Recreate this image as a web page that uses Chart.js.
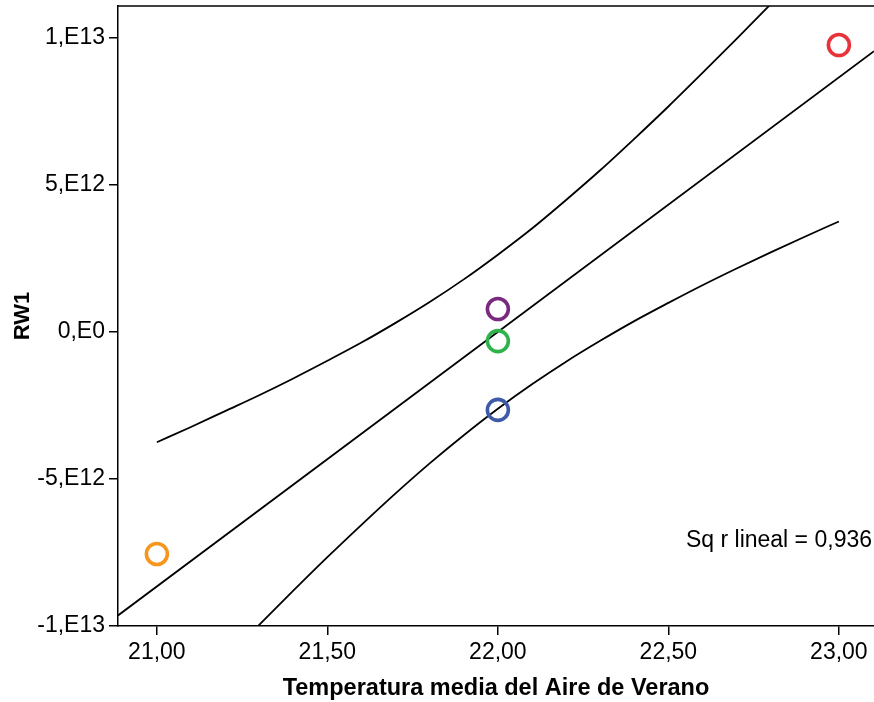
<!DOCTYPE html>
<html>
<head>
<meta charset="utf-8">
<script src="https://cdn.jsdelivr.net/npm/chart.js@4/dist/chart.umd.min.js"></script>
<style>
  html, body { margin: 0; padding: 0; background: #fff; overflow: hidden; }
  #wrap { width: 874px; height: 702px; position: relative; }
  canvas { display: block; }
</style>
</head>
<body>
<div id="wrap"><canvas id="c" width="874" height="702"></canvas></div>
<script>
// ---- Data ----
const pointX = [21, 22, 22, 22, 23];
const pointY = [-7.55e12, 0.78e12, -0.31e12, -2.65e12, 9.76e12];
const pointColors = ['#F7961E', '#7A2A7E', '#2EB34B', '#3F5AA8', '#E8333B'];

const fitX = [20.886, 23.103];
const fitY = [-9.64e12, 9.55e12];

const bandX = [21.0, 21.1, 21.2, 21.3, 21.4, 21.5, 21.6, 21.7, 21.8, 21.9, 22.0,
               22.1, 22.2, 22.3, 22.4, 22.5, 22.6, 22.7, 22.8, 22.9, 23.0];
const bandUpper = [-3.75e12, -3.23e12, -2.69e12, -2.15e12, -1.58e12, -0.98e12, -0.36e12,
                   0.31e12, 1.02e12, 1.79e12, 2.63e12, 3.52e12, 4.49e12, 5.50e12,
                   6.57e12, 7.67e12, 8.81e12, 9.97e12, 11.15e12, 12.35e12, 13.56e12];
const bandLower = [-13.55e12, -12.34e12, -11.14e12, -9.96e12, -8.80e12, -7.66e12, -6.56e12,
                   -5.49e12, -4.47e12, -3.51e12, -2.61e12, -1.78e12, -1.01e12, -0.30e12,
                   0.37e12, 0.99e12, 1.59e12, 2.16e12, 2.71e12, 3.24e12, 3.76e12];

const xTicks = [21, 21.5, 22, 22.5, 23];
const xTickLabels = ['21,00', '21,50', '22,00', '22,50', '23,00'];
const yTicks = [-1e13, -5e12, 0, 5e12, 1e13];
const yTickLabels = ['-1,E13', '-5,E12', '0,E0', '5,E12', '1,E13'];

const xTitle = 'Temperatura media del Aire de Verano';
const yTitle = 'RW1';
const annotationText = 'Sq r lineal = 0,936';

// ---- Build ----
const zip = (xs, ys) => xs.map((x, i) => ({ x, y: ys[i] }));
const FONT = "'Liberation Sans', Arial, Helvetica, sans-serif";

const framePlugin = {
  id: 'frame',
  afterDraw(chart) {
    const { ctx, chartArea } = chart;
    ctx.save();
    ctx.strokeStyle = '#000';
    ctx.lineWidth = 1.5;
    ctx.beginPath();
    ctx.moveTo(chartArea.left, chartArea.top);
    ctx.lineTo(chartArea.right, chartArea.top);
    ctx.stroke();
    ctx.font = "23px " + FONT;
    ctx.fillStyle = '#000';
    ctx.textAlign = 'right';
    ctx.textBaseline = 'alphabetic';
    ctx.fillText(annotationText, 872, 547);
    ctx.restore();
  }
};

new Chart(document.getElementById('c'), {
  type: 'scatter',
  data: {
    datasets: [
      {
        type: 'line', data: zip(fitX, fitY), borderColor: '#000', borderWidth: 1.8,
        pointRadius: 0, fill: false, tension: 0, clip: 0, order: 2
      },
      {
        type: 'line', data: zip(bandX, bandUpper), borderColor: '#000', borderWidth: 1.8,
        pointRadius: 0, fill: false, cubicInterpolationMode: 'monotone', clip: 0, order: 2
      },
      {
        type: 'line', data: zip(bandX, bandLower), borderColor: '#000', borderWidth: 1.8,
        pointRadius: 0, fill: false, cubicInterpolationMode: 'monotone', clip: 0, order: 2
      },
      {
        type: 'scatter', data: zip(pointX, pointY),
        pointRadius: 10.5, pointBorderWidth: 3.6, pointBorderColor: pointColors,
        pointBackgroundColor: 'rgba(0,0,0,0)', pointHoverRadius: 10.5, clip: 0, order: 1
      }
    ]
  },
  options: {
    responsive: false,
    animation: false,
    events: [],
    layout: { autoPadding: false, padding: { top: 6, right: 0, left: 0, bottom: 0 } },
    plugins: { legend: { display: false }, tooltip: { enabled: false } },
    scales: {
      x: {
        type: 'linear', min: 20.886, max: 23.103,
        afterBuildTicks: (s) => { s.ticks = xTicks.map(v => ({ value: v })); },
        afterFit: (s) => { s.height = 76; s.paddingRight = 0; s.paddingLeft = 0; },
        ticks: {
          font: { family: FONT, size: 23 }, color: '#000', padding: 4,
          maxRotation: 0, autoSkip: false,
          callback: (v) => { const i = xTicks.indexOf(v); return i >= 0 ? xTickLabels[i] : ''; }
        },
        grid: { drawOnChartArea: false, tickLength: 9, color: '#000', lineWidth: 1.5 },
        border: { color: '#000', width: 1.5 },
        title: {
          display: true, text: xTitle, color: '#000',
          font: { family: FONT, size: 23.5, weight: 'bold' }, padding: { top: 0, bottom: -1 }
        }
      },
      y: {
        type: 'linear', min: -1e13, max: 1.1088e13,
        afterBuildTicks: (s) => { s.ticks = yTicks.map(v => ({ value: v })); },
        afterFit: (s) => { s.width = 118; s.paddingTop = 0; s.paddingBottom = 0; },
        ticks: {
          font: { family: FONT, size: 23 }, color: '#000', padding: 4, autoSkip: false,
          callback: (v) => { const i = yTicks.indexOf(v); return i >= 0 ? yTickLabels[i] : ''; }
        },
        grid: { drawOnChartArea: false, tickLength: 9, color: '#000', lineWidth: 1.5 },
        border: { color: '#000', width: 1.5 },
        title: {
          display: true, text: yTitle, color: '#000',
          font: { family: FONT, size: 22, weight: 'bold' }, padding: { top: 10, bottom: 0 }
        }
      }
    }
  },
  plugins: [framePlugin]
});
</script>
</body>
</html>
